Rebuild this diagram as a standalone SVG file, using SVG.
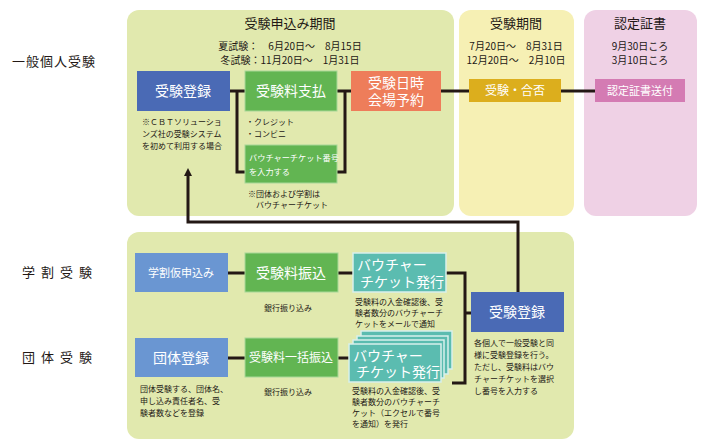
<svg xmlns="http://www.w3.org/2000/svg" width="702" height="445" viewBox="0 0 702 445">
<style>
text{font-family:"Noto Sans CJK JP","Noto Sans",sans-serif;fill:#231815}
.w{fill:#fff;font-size:14px;text-anchor:middle}
.l{text-anchor:start}
.s{font-size:8px}
.c{stroke:#231815;stroke-width:3;fill:none}
.bl{fill:#4a6ab5}.lb{fill:#6a96d2}.gr{fill:#62b552;stroke:#a8d898;stroke-width:1}.tl{fill:#5bbcb0;stroke:#d8f0ec;stroke-width:1.5}
</style>
<defs><marker id="a" markerWidth="8" markerHeight="8" refX="4" refY="4" orient="auto" markerUnits="userSpaceOnUse"><path d="M0,0L8,4L0,8z" fill="#231815"/></marker></defs>
<g id="panels">
<rect x="127" y="10" width="327" height="206" rx="12" fill="#e1e9ae"/>
<rect x="459" y="10" width="115" height="206" rx="12" fill="#f6f0b4"/>
<rect x="584" y="10" width="113" height="206" rx="12" fill="#efd1e5"/>
<rect x="127" y="232" width="447" height="207" rx="12" fill="#e1e9ae"/>
<text x="290" y="28" font-size="13" text-anchor="middle">受験申込み期間</text>
<text x="290" y="50" font-size="10" text-anchor="middle">夏試験：　6月20日～　8月15日</text>
<text x="290" y="64" font-size="10" text-anchor="middle">冬試験：11月20日～　1月31日</text>
<text x="516" y="28" font-size="13" text-anchor="middle">受験期間</text>
<text x="516" y="50" font-size="10" text-anchor="middle">7月20日～　8月31日</text>
<text x="516" y="64" font-size="10" text-anchor="middle">12月20日～　2月10日</text>
<text x="640" y="28" font-size="13" text-anchor="middle">認定証書</text>
<text x="640" y="50" font-size="10" text-anchor="middle">9月30日ころ</text>
<text x="640" y="64" font-size="10" text-anchor="middle">3月10日ころ</text>
<text x="12" y="66" font-size="13" letter-spacing="1">一般個人受験</text>
<text x="22" y="277" font-size="13" letter-spacing="6">学割受験</text>
<text x="22" y="362" font-size="13" letter-spacing="6">団体受験</text>
</g>
<g id="connectors">
<path class="c" d="M230,91H245M237,91V172H245M337,91H351M345,91V172H337M441,91H469M561,91H595"/>
<path class="c" d="M228,273H245M338,273H353M228,358H245M338,358H349M446,273H465V383H452M465,313H471"/>
<path class="c" d="M518,292V222H188V172" marker-end="url(#a)"/>
</g>
<g id="n1"><rect class="bl" x="137" y="71" width="93" height="40"/><text class="w" x="183" y="96">受験登録</text>
<text class="s" x="142" y="125">※ＣＢＴソリューショ</text><text class="s" x="142" y="137">ンズ社の受験システム</text><text class="s" x="142" y="149">を初めて利用する場合</text></g>
<g id="n2"><rect class="gr" x="245" y="71" width="92" height="40"/><text class="w" x="291" y="96">受験料支払</text>
<text class="s" x="246" y="125">・クレジット</text><text class="s" x="246" y="137">・コンビニ</text></g>
<g id="n3"><rect class="gr" x="245" y="145" width="92" height="38"/><text class="w l" x="249" y="161" style="font-size:8.2px">バウチャーチケット番号</text><text class="w l" x="249" y="175" style="font-size:8.2px">を入力する</text>
<text class="s" x="248" y="197">※団体および学割は</text><text class="s" x="256" y="208">バウチャーチケット</text></g>
<g id="n4"><rect x="351" y="71" width="90" height="40" fill="#ee7d5a"/><text class="w" x="396" y="88">受験日時</text><text class="w" x="396" y="105">会場予約</text></g>
<g id="n5"><rect x="469" y="79" width="92" height="23" fill="#dcae1d"/><text class="w" x="515" y="95" style="font-size:12px">受験・合否</text></g>
<g id="n6"><rect x="595" y="79" width="90" height="23" fill="#d47bb3"/><text class="w" x="640" y="95" style="font-size:11px">認定証書送付</text></g>
<g id="b1"><rect class="lb" x="135" y="253" width="93" height="39"/><text class="w" x="181" y="277" style="font-size:11px">学割仮申込み</text></g>
<g id="b2"><rect class="gr" x="245" y="253" width="93" height="39"/><text class="w" x="291" y="278">受験料振込</text>
<text class="s" x="264" y="311">銀行振り込み</text></g>
<g id="b3"><rect class="tl" x="353" y="253" width="93" height="39"/><text class="w l" x="357" y="270">バウチャー</text><text class="w l" x="360" y="287">チケット発行</text>
<text class="s" x="355" y="305">受験料の入金確認後、受</text><text class="s" x="355" y="316">験者数分のバウチャーチ</text><text class="s" x="355" y="327">ケットをメールで通知</text></g>
<g id="b4"><rect class="lb" x="135" y="338" width="93" height="39"/><text class="w" x="181" y="363">団体登録</text>
<text class="s" x="140" y="392">団体受験する、団体名、</text><text class="s" x="140" y="404">申し込み責任者名、受</text><text class="s" x="140" y="416">験者数などを登録</text></g>
<g id="b5"><rect class="gr" x="245" y="338" width="93" height="39"/><text class="w" x="291" y="362" style="font-size:12px">受験料一括振込</text>
<text class="s" x="264" y="395">銀行振り込み</text></g>
<g id="b6"><rect class="tl" x="361" y="331" width="91" height="38"/><rect class="tl" x="357" y="336" width="91" height="38"/><rect class="tl" x="353" y="340" width="91" height="38"/><rect class="tl" x="349" y="344" width="92" height="38"/>
<text class="w l" x="353" y="361">バウチャー</text><text class="w l" x="356" y="377">チケット発行</text>
<text class="s" x="352" y="394">受験料の入金確認後、受</text><text class="s" x="352" y="405">験者数分のバウチャーチ</text><text class="s" x="352" y="416">ケット（エクセルで番号</text><text class="s" x="352" y="427">を通知）を発行</text></g>
<g id="b7"><rect class="bl" x="471" y="292" width="93" height="40"/><text class="w" x="517" y="317">受験登録</text>
<text class="s" x="474" y="346">各個人で一般受験と同</text><text class="s" x="474" y="358">様に受験登録を行う。</text><text class="s" x="474" y="370">ただし、受験料はバウ</text><text class="s" x="474" y="382">チャーチケットを選択</text><text class="s" x="474" y="394">し番号を入力する</text></g>
</svg>
